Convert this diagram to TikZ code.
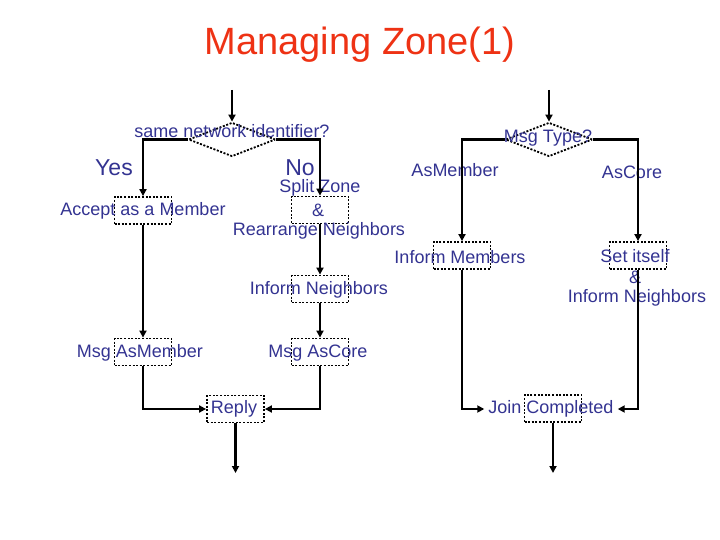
\documentclass[tikz,border=0pt]{standalone}
\usepackage{fontspec}
\setmainfont{Liberation Sans}
\usetikzlibrary{shapes.geometric,arrows.meta}
\definecolor{txtblue}{RGB}{51,51,145}
\definecolor{titlered}{RGB}{238,50,20}
\begin{document}
\begin{tikzpicture}[x=1pt,y=-1pt,
  lbl/.style={text=txtblue,font=\fontsize{18}{21}\selectfont,inner sep=1pt},
  big/.style={text=txtblue,font=\fontsize{23}{26}\selectfont,inner sep=0pt},
  dbox/.style={draw,dash pattern=on 2pt off 1.6pt,line width=1.8pt,minimum width=57pt,minimum height=27pt,inner sep=0pt},
  dec/.style={draw,dash pattern=on 2pt off 1.6pt,line width=1.8pt,diamond,minimum width=87pt,minimum height=34pt,aspect=2.56,inner sep=0pt},
  flow/.style={line width=2.8pt,-{Triangle[length=7pt,width=7pt]}}]
\useasboundingbox (0,0) rectangle (720,540);
\node[text=titlered,font=\fontsize{38}{42}\selectfont] (title) at (360,45) {Managing Zone(1)};

% left part
\coordinate (lin) at (232,90);
\node[dec] (d1) at (232,139.5) {};
\node[dbox] (acc) at (143,210.5) {};
\node[dbox] (split) at (320,210) {};
\node[dbox] (infn) at (320,289) {};
\node[dbox] (mam) at (143,352) {};
\node[dbox] (mac) at (320,352) {};
\node[dbox] (rep) at (235.5,409) {};
\coordinate (lout) at (235.5,473);

% right part
\coordinate (rin) at (549,90);
\node[dec] (d2) at (549,139.5) {};
\node[dbox] (infm) at (462,255.5) {};
\node[dbox] (setb) at (638,255.5) {};
\node[dbox] (join) at (553,408.5) {};
\coordinate (rout) at (553,473);

% texts
\node[lbl] at (232,131) {same network identifier?};
\node[lbl] at (548,138) {Msg Type?};
\node[big] at (114,168) {Yes};
\node[big] at (300,168) {No};
\node[lbl] at (455,170) {AsMember};
\node[lbl] at (632,172) {AsCore};
\node[lbl] at (143,211) {Accept as a Member};
\node[lbl] at (320,188) {Split Zone};
\node[lbl] at (318,210) {\&};
\node[lbl] at (319,231) {Rearrange Neighbors};
\node[lbl] at (319,290) {Inform Neighbors};
\node[lbl] at (460,257) {Inform Members};
\node[lbl] at (635,256) {Set itself};
\node[lbl] at (635,277) {\&};
\node[lbl] at (637,298) {Inform Neighbors};
\node[lbl] at (140,353) {Msg AsMember};
\node[lbl] at (318,353) {Msg AsCore};
\node[lbl] at (234,409) {Reply};
\node[lbl,inner sep=4pt] (jt) at (551,409) {Join Completed};

% connectors left
\draw[flow] (lin) -- (d1.north);
\draw[flow] (d1.west) -| (acc.north);
\draw[flow] (d1.east) -| (split.north);
\draw[flow] (acc.south) -- (mam.north);
\draw[flow] (split.south) -- (infn.north);
\draw[flow] (infn.south) -- (mac.north);
\draw[flow] (mam.south) |- (rep.west);
\draw[flow] (mac.south) |- (rep.east);
\draw[flow] (rep.south) -- (lout);

% connectors right
\draw[flow] (rin) -- (d2.north);
\draw[flow] (d2.west) -| (infm.north);
\draw[flow] (d2.east) -| (setb.north);
\draw[flow] (infm.south) |- (jt.west);
\draw[flow] (setb.south) |- (jt.east);
\draw[flow] (join.south) -- (rout);
\end{tikzpicture}
\end{document}
